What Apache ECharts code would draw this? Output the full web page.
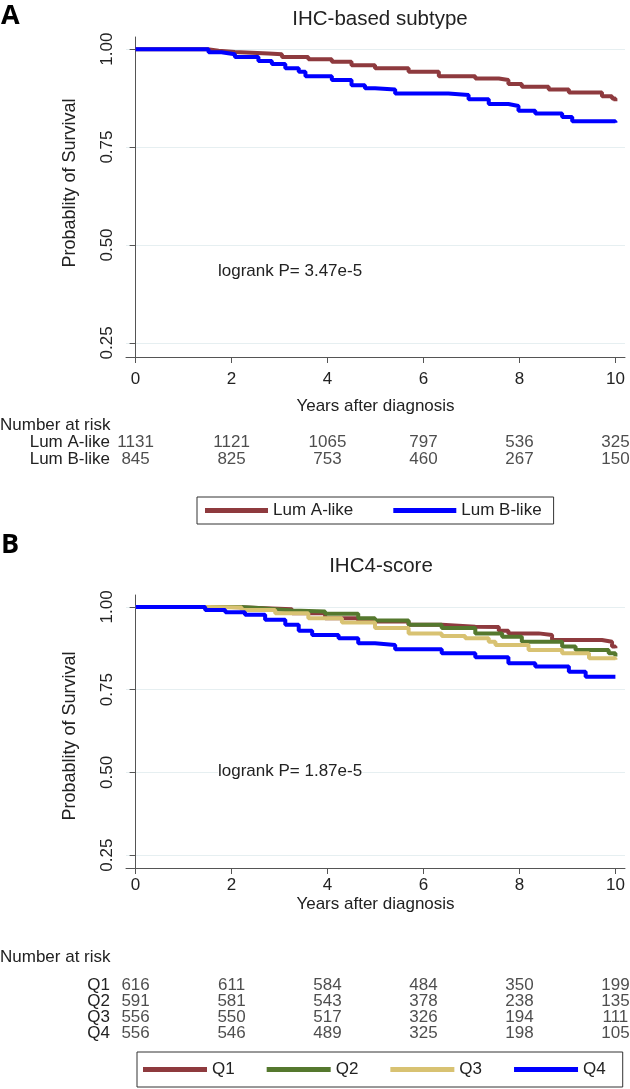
<!DOCTYPE html>
<html><head><meta charset="utf-8">
<script src="https://cdn.jsdelivr.net/npm/echarts@6/dist/echarts.min.js"></script>
<style>html,body{margin:0;padding:0;background:#fff}#c{width:630px;height:1089px}</style>
</head><body><div id="c"></div>
<script>
// ---- data ----
const years = [0, 2, 4, 6, 8, 10];
const yTicks = [0.25, 0.50, 0.75, 1.00];
const groupsA = ['Lum A-like', 'Lum B-like'];
const groupsB = ['Q1', 'Q2', 'Q3', 'Q4'];
const riskLumA = [1131, 1121, 1065, 797, 536, 325];
const riskLumB = [845, 825, 753, 460, 267, 150];
const riskQ1 = [616, 611, 584, 484, 350, 199];
const riskQ2 = [591, 581, 543, 378, 238, 135];
const riskQ3 = [556, 550, 517, 326, 194, 111];
const riskQ4 = [556, 546, 489, 325, 198, 105];
// Kaplan-Meier curves [years, survival]
const kmLumA = [[0,1],[1.2,1],[1.5,0.996],[1.73,0.993],[2.07,0.989],[2.77,0.987],[3.05,0.98],[3.6,0.974],[4.09,0.968],[4.5,0.959],[4.99,0.951],[5.69,0.942],[6.32,0.931],[7.08,0.925],[7.57,0.921],[7.77,0.911],[8.05,0.904],[8.61,0.897],[9.03,0.889],[9.72,0.88],[9.93,0.874],[10,0.867]];
const kmLumB = [[0,1],[1.17,1],[1.52,0.992],[1.79,0.987],[2.07,0.98],[2.56,0.97],[2.84,0.962],[3.12,0.951],[3.4,0.942],[3.54,0.931],[4.09,0.921],[4.5,0.908],[4.78,0.9],[4.99,0.897],[5.41,0.887],[6.52,0.883],[6.94,0.872],[7.36,0.86],[7.77,0.855],[7.98,0.843],[8.33,0.836],[8.89,0.827],[9.1,0.816],[10,0.812]];
const kmQ1 = [[0,1],[1.52,1],[2.0,0.997],[2.56,0.993],[3.26,0.981],[3.95,0.966],[4.64,0.956],[5.69,0.946],[6.38,0.94],[7.08,0.939],[7.57,0.928],[7.77,0.92],[8.4,0.915],[8.68,0.9],[9.72,0.895],[9.93,0.88],[10,0.875]];
const kmQ2 = [[0,1],[1.52,1],[2.2,0.997],[2.56,0.993],[2.91,0.989],[3.26,0.986],[3.95,0.979],[4.64,0.966],[4.99,0.959],[5.69,0.946],[6.38,0.936],[7.08,0.92],[7.64,0.91],[8.05,0.895],[8.89,0.88],[9.17,0.87],[9.86,0.86],[10,0.85]];
const kmQ3 = [[0,1],[1.52,0.998],[2.21,0.991],[2.91,0.981],[3.6,0.966],[4.3,0.953],[4.99,0.936],[5.69,0.92],[6.38,0.912],[6.87,0.905],[7.36,0.895],[7.5,0.885],[8.19,0.87],[8.89,0.86],[9.45,0.845],[10,0.84]];
const kmQ4 = [[0,1],[1.1,1],[1.45,0.991],[1.87,0.984],[2.28,0.976],[2.7,0.961],[3.12,0.946],[3.4,0.928],[3.68,0.915],[4.23,0.905],[4.64,0.89],[4.99,0.885],[5.41,0.872],[6.38,0.86],[7.08,0.848],[7.77,0.83],[8.33,0.82],[9.03,0.804],[9.38,0.789],[10,0.787]];
const colA = ['#8E3A3E', '#0000FF'];
const colB = ['#8E3A3E', '#55782E', '#D8C272', '#0000FF'];

const FONT = '"Liberation Sans", Arial, sans-serif';
const FS = 17;
const TXT = '#222';

function xAx(gi, showAll, margin, gap) {
  return {
    gridIndex: gi, type: 'value', min: -0.2, max: 10.2,
    axisLine: {show: showAll, lineStyle: {color: '#555', width: 1}},
    axisTick: {show: showAll, length: 6, customValues: years, lineStyle: {color: '#555'}},
    axisLabel: {show: showAll, customValues: years, fontSize: FS, fontFamily: FONT, color: TXT, margin: margin || 12},
    splitLine: {show: false},
    name: showAll ? 'Years after diagnosis' : '', nameLocation: 'middle', nameGap: gap || 40,
    nameTextStyle: {fontSize: FS, fontFamily: FONT, color: TXT}
  };
}
function yAx(gi, mn, mx) {
  return {
    gridIndex: gi, type: 'value', min: mn, max: mx,
    axisLine: {show: true, lineStyle: {color: '#555', width: 1}},
    axisTick: {show: true, length: 6, customValues: yTicks, lineStyle: {color: '#555'}},
    axisLabel: {customValues: yTicks, rotate: 90, fontSize: FS, fontFamily: FONT, color: TXT, margin: 10,
      formatter: v => v.toFixed(2)},
    splitLine: {show: true, lineStyle: {color: '#E6EFF1', width: 1}}
  };
}
function catAx(gi, cats) {
  return {
    gridIndex: gi, type: 'category', data: cats, inverse: true,
    axisLine: {show: false}, axisTick: {show: false}, splitLine: {show: false},
    axisLabel: {interval: 0, fontSize: FS, fontFamily: FONT, color: TXT, margin: 16}
  };
}
function km(name, data, color, xi, yi) {
  return {name, type: 'line', step: 'end', data, xAxisIndex: xi, yAxisIndex: yi,
    showSymbol: false, symbol: 'none', color, lineStyle: {width: 4, color}, z: 3, silent: true};
}
function riskSeries(id, cat, counts, xi, yi) {
  return {name: id, type: 'scatter', xAxisIndex: xi, yAxisIndex: yi, symbolSize: 1,
    itemStyle: {color: 'rgba(0,0,0,0)'}, silent: true,
    data: years.map((t, i) => [t, cat, counts[i]]),
    label: {show: true, position: 'inside', formatter: p => String(p.data[2]),
      fontSize: FS, fontFamily: FONT, color: TXT}};
}
function txt(x, y, s, extra, size) {
  return {type: 'text', x, y, z: 50, style: Object.assign({text: s, fontSize: size || FS, fontFamily: FONT, fill: TXT,
    align: 'left', verticalAlign: 'middle'}, extra || {})};
}

const chart = echarts.init(document.getElementById('c'), null, {renderer: 'canvas'});
const option = {
  animation: false,
  backgroundColor: '#fff',
  title: [
    {text: 'IHC-based subtype', left: 375, top: 4, textAlign: 'center',
      textStyle: {fontSize: 20.5, fontWeight: 'normal', fontFamily: FONT, color: TXT}},
    {text: 'IHC4-score', left: 376, top: 551, textAlign: 'center',
      textStyle: {fontSize: 20.5, fontWeight: 'normal', fontFamily: FONT, color: TXT}}
  ],
  grid: [
    {left: 126, top: 37, width: 499, height: 320},
    {left: 126, top: 595, width: 499, height: 273},
    {left: 126, top: 434, width: 499, height: 34},
    {left: 126, top: 977, width: 499, height: 64}
  ],
  xAxis: [xAx(0, true, 14, 41), xAx(1, true, 9, 28), xAx(2, false), xAx(3, false)],
  yAxis: [yAx(0, 0.214, 1.031), yAx(1, 0.211, 1.036), catAx(2, groupsA), catAx(3, groupsB)],
  legend: [
    {data: groupsA, left: 197, top: 497, orient: 'horizontal', icon: 'rect', itemWidth: 63, itemHeight: 5,
      itemGap: 40, padding: [5, 12, 5, 8], borderColor: '#333', borderWidth: 1,
      textStyle: {fontSize: FS, fontFamily: FONT, color: TXT}, selectedMode: false},
    {data: groupsB, left: 137, top: 1052, orient: 'horizontal', icon: 'rect', itemWidth: 64, itemHeight: 5,
      itemGap: 32, padding: [9, 17, 9, 6], borderColor: '#333', borderWidth: 1,
      textStyle: {fontSize: FS, fontFamily: FONT, color: TXT}, selectedMode: false}
  ],
  graphic: [
    {type: 'text', left: 1, top: 3, style: {text: 'A', fontSize: 27, fontWeight: 'bold', fontFamily: '"Open Sans", sans-serif', fill: '#000'}},
    {type: 'text', left: 1, top: 532, style: {text: 'B', fontSize: 27, fontWeight: 'bold', fontFamily: '"Open Sans", sans-serif', fill: '#000'}},
    Object.assign(txt(70, 183, 'Probablity of Survival', {align: 'center'}, 18), {rotation: Math.PI / 2}),
    Object.assign(txt(70, 736, 'Probablity of Survival', {align: 'center'}, 18), {rotation: Math.PI / 2}),
    txt(218, 271, 'logrank P= 3.47e-5'),
    txt(218, 771, 'logrank P= 1.87e-5', {backgroundColor: '#fff'}),
    txt(0, 425, 'Number at risk'),
    txt(0, 957, 'Number at risk')
  ],
  series: [
    km('Lum A-like', kmLumA, colA[0], 0, 0),
    km('Lum B-like', kmLumB, colA[1], 0, 0),
    km('Q1', kmQ1, colB[0], 1, 1),
    km('Q2', kmQ2, colB[1], 1, 1),
    km('Q3', kmQ3, colB[2], 1, 1),
    km('Q4', kmQ4, colB[3], 1, 1),
    riskSeries('rA', groupsA[0], riskLumA, 2, 2),
    riskSeries('rB', groupsA[1], riskLumB, 2, 2),
    riskSeries('r1', groupsB[0], riskQ1, 3, 3),
    riskSeries('r2', groupsB[1], riskQ2, 3, 3),
    riskSeries('r3', groupsB[2], riskQ3, 3, 3),
    riskSeries('r4', groupsB[3], riskQ4, 3, 3)
  ]
};
chart.setOption(option);
</script></body></html>
